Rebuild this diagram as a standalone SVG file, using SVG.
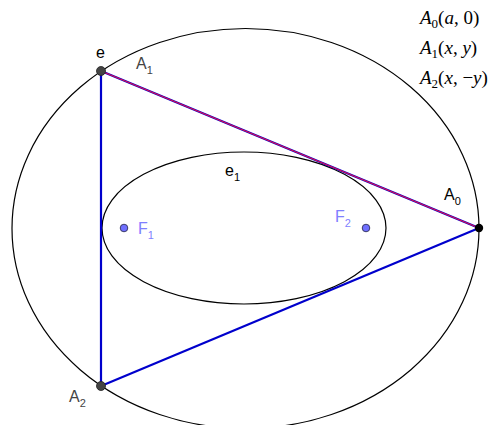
<svg xmlns="http://www.w3.org/2000/svg" width="499" height="425" viewBox="0 0 499 425">
<style>
.curve{fill:none;stroke:#000;stroke-width:1.2}
.seg{stroke:#0000cc;stroke-width:2.2;fill:none}
.red{stroke:#e01050;stroke-width:1.1;fill:none}
.lbl{font-family:"Liberation Sans",Arial,sans-serif;font-size:16px}
.sub{font-size:11px}
.math{font-family:"Liberation Serif","Times New Roman",serif;font-size:19px}
.focus{fill:#7070ff;stroke:#222244;stroke-width:0.8}
</style>
<rect width="499" height="425" fill="#fff"/>
<g id="e"><ellipse class="curve" cx="245.5" cy="228.5" rx="233.5" ry="200"/></g>
<g id="e1"><ellipse class="curve" cx="244" cy="228" rx="142" ry="76"/></g>
<g id="connectors">
<line class="seg" x1="101" y1="71" x2="101" y2="386"/>
<line class="seg" x1="101" y1="386" x2="479" y2="228"/>
<line class="seg" x1="101" y1="71" x2="479" y2="228"/>
<line class="red" x1="101" y1="71" x2="479" y2="228"/>
</g>
<g id="A1"><circle cx="101" cy="71" r="4.5" fill="#444" stroke="#222" stroke-width="0.8"/>
<text class="lbl" x="136" y="69" fill="#444">A<tspan class="sub" dy="5">1</tspan></text></g>
<g id="A2"><circle cx="101" cy="386" r="4.5" fill="#444" stroke="#222" stroke-width="0.8"/>
<text class="lbl" x="69" y="402" fill="#444">A<tspan class="sub" dy="5">2</tspan></text></g>
<g id="A0"><circle cx="479" cy="228" r="4.2" fill="#000"/>
<text class="lbl" x="444" y="200" fill="#000">A<tspan class="sub" dy="5">0</tspan></text></g>
<g id="F1"><circle class="focus" cx="124" cy="228" r="3.8"/>
<text class="lbl" x="138" y="234" fill="#7f7fff">F<tspan class="sub" dy="5">1</tspan></text></g>
<g id="F2"><circle class="focus" cx="366" cy="228" r="3.8"/>
<text class="lbl" x="335" y="222" fill="#7f7fff">F<tspan class="sub" dy="5">2</tspan></text></g>
<g id="label-e"><text class="lbl" x="96" y="58" fill="#000">e</text></g>
<g id="label-e1"><text class="lbl" x="225" y="176" fill="#000">e<tspan class="sub" dy="5">1</tspan></text></g>
<g id="coords">
<text class="math" x="420" y="24"><tspan font-style="italic">A</tspan><tspan font-size="13" dy="4">0</tspan><tspan dy="-4">(</tspan><tspan font-style="italic">a</tspan>, 0)</text>
<text class="math" x="420" y="54"><tspan font-style="italic">A</tspan><tspan font-size="13" dy="4">1</tspan><tspan dy="-4">(</tspan><tspan font-style="italic">x</tspan>, <tspan font-style="italic">y</tspan>)</text>
<text class="math" x="420" y="84"><tspan font-style="italic">A</tspan><tspan font-size="13" dy="4">2</tspan><tspan dy="-4">(</tspan><tspan font-style="italic">x</tspan>, −<tspan font-style="italic">y</tspan>)</text>
</g>
</svg>
